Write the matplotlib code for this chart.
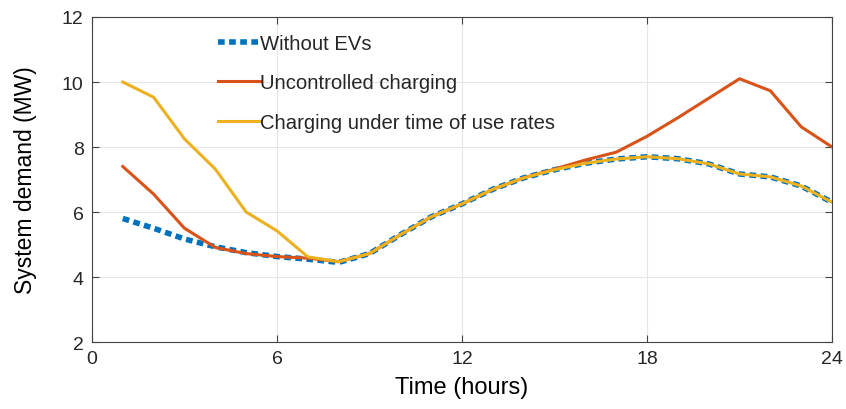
import matplotlib.pyplot as plt

plt.rcParams['font.family'] = ['Liberation Sans', 'DejaVu Sans']
plt.rcParams['text.color'] = '#262626'

hours = list(range(1, 25))

# system demand in MW for each hour of the day
without_evs = [5.80, 5.50, 5.17, 4.93, 4.75, 4.63, 4.55, 4.45, 4.72, 5.30, 5.85, 6.25,
               6.70, 7.05, 7.30, 7.50, 7.63, 7.70, 7.64, 7.48, 7.17, 7.08, 6.80, 6.30]
uncontrolled = [7.40, 6.55, 5.50, 4.91, 4.72, 4.63, 4.58, 4.47, 4.72, 5.30, 5.85, 6.25,
                6.70, 7.05, 7.32, 7.60, 7.84, 8.33, 8.90, 9.50, 10.10, 9.73, 8.62, 8.00]
tou_rates = [10.00, 9.53, 8.25, 7.32, 6.00, 5.42, 4.62, 4.47, 4.72, 5.30, 5.85, 6.25,
             6.70, 7.05, 7.30, 7.50, 7.63, 7.70, 7.64, 7.48, 7.17, 7.08, 6.80, 6.30]

labels = ['Without EVs', 'Uncontrolled charging', 'Charging under time of use rates']

fig = plt.figure(figsize=(8.46, 4.10), dpi=100)
ax = fig.add_axes([0.1087, 0.1634, 0.8748, 0.7927])

ax.plot(hours, without_evs, color='#0072BD', lw=4, linestyle=(0, (1.2, 0.8)), label=labels[0])
ax.plot(hours, uncontrolled, color='#D95319', lw=2.2, label=labels[1])
ax.plot(hours, tou_rates, color='#EDB120', lw=2.2, label=labels[2])

ax.set_xlim(0, 24)
ax.set_ylim(2, 12)
ax.set_xticks([0, 6, 12, 18, 24])
ax.set_yticks([2, 4, 6, 8, 10, 12])
ax.grid(True, color='#e6e6e6', lw=0.8)
ax.set_axisbelow(True)
ax.tick_params(direction='in', top=True, right=True, labelsize=14, length=5,
               color='#444444', labelcolor='#262626', pad=6)
for s in ax.spines.values():
    s.set_color('#444444')
    s.set_linewidth(0.8)

ax.set_xlabel('Time (hours)', fontsize=17, labelpad=6)
ax.set_ylabel('System demand (MW)', fontsize=16.5, labelpad=18)

ax.legend(loc='upper left', bbox_to_anchor=(0.145, 1.005), frameon=False, fontsize=14.6,
          labelspacing=1.02, handlelength=2.1, handletextpad=0.0)

fig.savefig('out.png')
